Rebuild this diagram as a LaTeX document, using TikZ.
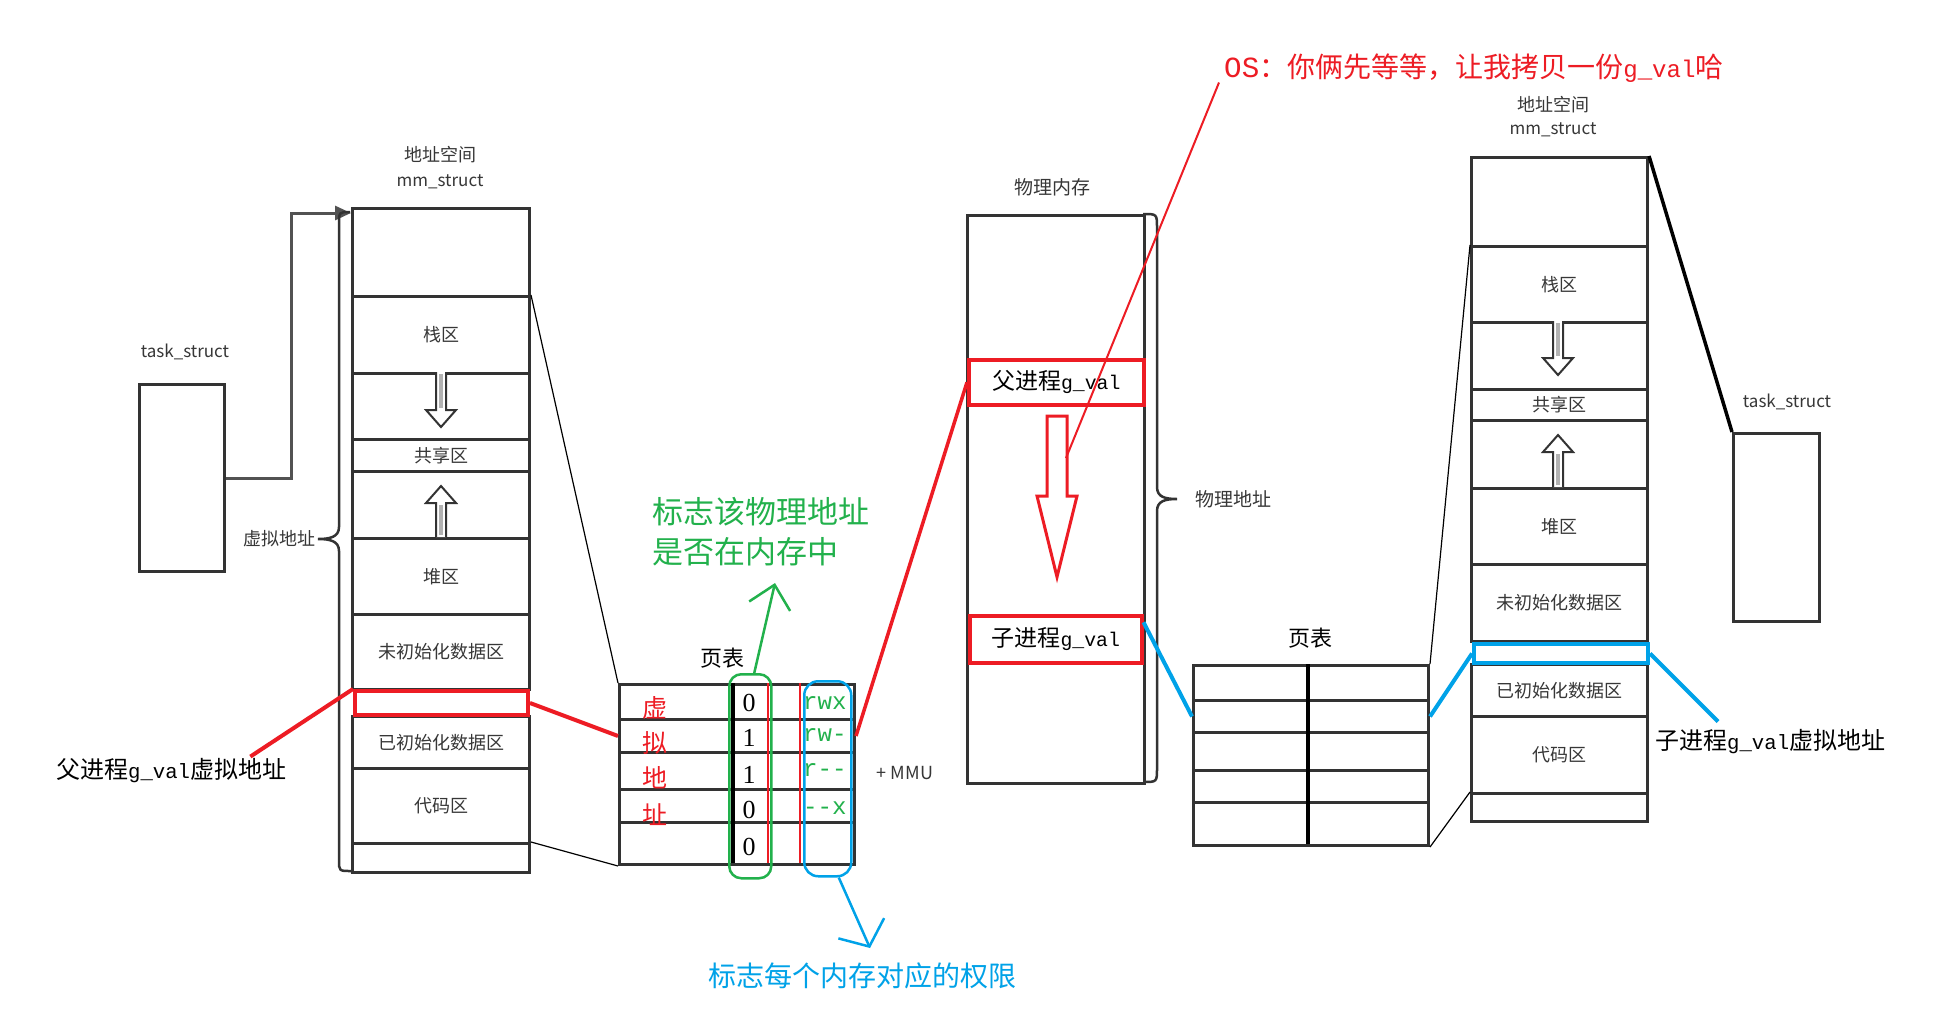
\documentclass[tikz,border=0pt]{standalone}
\usepackage{fontspec}
\setmainfont{Liberation Serif}
\newfontfamily\cjk{Noto Sans CJK SC}
\newfontfamily\mono[Scale=0.86]{Liberation Mono}
\usetikzlibrary{arrows.meta,calc}
\definecolor{dk}{RGB}{51,51,51}
\definecolor{tg}{RGB}{55,55,55}
\definecolor{pred}{RGB}{237,28,36}
\definecolor{pgreen}{RGB}{34,177,76}
\definecolor{pblue}{RGB}{0,162,232}
\newcommand{\myfs}[1]{\fontsize{#1pt}{#1pt}\selectfont}
\newcommand{\gv}{{\mono g\_val}}
\begin{document}
\begin{tikzpicture}[x=1pt,y=-1pt,
  seg/.style={draw=dk,line width=3pt,minimum width=177pt,inner sep=0pt,anchor=north west,font=\cjk\myfs{18},text=tg},
  segr/.style={seg,minimum width=176pt},
  ptrow/.style={draw=dk,line width=3pt,minimum width=235pt,inner sep=0pt,anchor=north west},
  boxn/.style={draw=dk,line width=3pt,inner sep=0pt,anchor=north west},
  lbl/.style={font=\cjk\myfs{18},text=tg,inner sep=0pt},
  blk/.style={font=\cjk\myfs{24},text=black,inner sep=0pt},
  dig/.style={font=\myfs{26},text=black,inner sep=0pt},
  rwxs/.style={font=\mono\myfs{28},text=pgreen,inner sep=0pt,anchor=west},
  redc/.style={font=\cjk\myfs{25},text=pred,inner sep=0pt},
  thinln/.style={draw=black,line width=1.2pt},
  hollowar/.style={draw=dk,line width=2pt,fill=white,line join=miter},
  bracel/.style={draw=dk,line width=2.5pt},
]
\useasboundingbox[fill=white] (0,0) rectangle (1940,1026);

% ---------- left address space ----------
\node[lbl] (LAt1) at (440,155) {地址空间};
\node[lbl,font=\cjk\myfs{17}] (LAt2) at (440,182) {mm\_struct};
\node[seg,minimum height=88pt] (LA0) at (351,207) {};
\node[seg,minimum height=77pt] (LA1) at (351,295) {栈区};
\node[seg,minimum height=66pt] (LA2) at (351,372) {};
\node[seg,minimum height=32pt] (LA3) at (351,438) {共享区};
\node[seg,minimum height=67pt] (LA4) at (351,470) {};
\node[seg,minimum height=76pt] (LA5) at (351,537) {堆区};
\node[seg,minimum height=75pt] (LA6) at (351,613) {未初始化数据区};
\node[seg,minimum height=52pt] (LA7) at (351,715) {已初始化数据区};
\node[seg,minimum height=75pt] (LA8) at (351,767) {代码区};
\node[seg,minimum height=29pt] (LA9) at (351,842) {};
\node[draw=pred,line width=4pt,minimum width=173pt,minimum height=24pt,inner sep=0pt,anchor=north west] (LAg) at (353,689) {};
\draw[hollowar] (436,372) -- (436,410) -- (426,410) -- (441,427) -- (456,410) -- (446,410) -- (446,372);
\draw[gray!60,line width=4pt] (441,374) -- (441,408);
\draw[hollowar] (436,537) -- (436,503) -- (426,503) -- (441,486) -- (456,503) -- (446,503) -- (446,537);
\draw[gray!60,line width=4pt] (441,505) -- (441,535);

% left task_struct
\node[lbl,font=\cjk\myfs{17}] (LTl) at (185,352) {task\_struct};
\node[boxn,minimum width=85pt,minimum height=187pt] (LT) at (138,383) {};
\draw[dk!85,line width=3pt,-{Triangle[length=16pt,width=14pt]}] (LT.east) -- ++(65,0) |- ($(LA0.north west)+(0,6)$);

% left brace
\draw[bracel] (350,212) .. controls (339,212) .. (339,224) -- (339,527) .. controls (339,537) and (330,539) .. (318,539)
  .. controls (330,539) and (339,541) .. (339,551) -- (339,860) .. controls (339,871) .. (351,871);
\node[lbl,anchor=east] (VL) at (316,539) {虚拟地址};

% left red label
\node[blk,anchor=west] (PL) at (56,771) {父进程\gv 虚拟地址};
\draw[pred,line width=4pt] ($(PL.north east)+(-36,-2)$) -- (LAg.north west);

% ---------- page table 1 ----------
\node[blk,font=\cjk\myfs{22}] (PTt) at (722,658) {页表};
\node[ptrow,minimum height=35pt] (P1) at (618,683) {};
\node[ptrow,minimum height=33pt] (P2) at (618,718) {};
\node[ptrow,minimum height=37pt] (P3) at (618,751) {};
\node[ptrow,minimum height=33pt] (P4) at (618,788) {};
\node[ptrow,minimum height=42pt] (P5) at (618,821) {};
\draw[black,line width=4pt] (733,683) -- (733,863);
\draw[pred,line width=2.5pt] (768,683) -- (768,863);
\draw[pred,line width=2.5pt] (800,683) -- (800,863);
\node[dig] (d1) at (749,703) {0};
\node[dig] (d2) at (749,738) {1};
\node[dig] (d3) at (749,775) {1};
\node[dig] (d4) at (749,810) {0};
\node[dig] (d5) at (749,847) {0};
\node[rwxs] (r1) at (803,703) {rwx};
\node[rwxs] (r2) at (803,735) {rw-};
\node[rwxs] (r3) at (803,770) {r--};
\node[rwxs] (r4) at (803,808) {--x};
\node[redc] (v1) at (655,708) {虚};
\node[redc] (v2) at (655,743) {拟};
\node[redc] (v3) at (655,778) {地};
\node[redc] (v4) at (655,815) {址};
\node[draw=pgreen,line width=2.5pt,rounded corners=12pt,minimum width=42pt,minimum height=204pt,inner sep=0pt,anchor=north west] (GR) at (728,673) {};
\node[draw=pblue,line width=2.5pt,rounded corners=14pt,minimum width=47pt,minimum height=195pt,inner sep=0pt,anchor=north west] (BR) at (803,680) {};
\node[lbl,font=\cjk\myfs{18}] (MMU) at (905,773) {+ MMU};

% green annotation
\node[anchor=west,font=\cjk\fontsize{31pt}{40pt}\selectfont,text=pgreen,align=left,inner sep=0pt] (GT) at (652,532) {标志该物理地址\\是否在内存中};
\coordinate (gtip) at (775,583);
\draw[pgreen,line width=2.5pt,-{Straight Barb[length=22pt,width=42pt]}] ($(GR.north)+(4,0)$) -- (gtip);

% blue annotation
\node[font=\cjk\myfs{28},text=pblue,inner sep=0pt] (BT) at (862,976) {标志每个内存对应的权限};
\coordinate (btip) at (870,948);
\draw[pblue,line width=2.5pt,-{Straight Barb[length=20pt,width=50pt]}] ($(BR.south)+(11,0)$) -- (btip);

% connectors left AS -> page table
\draw[thinln] (LA1.north east) -- (P1.north west);
\draw[thinln] (LA9.north east) -- (P5.south west);
\draw[pred,line width=4pt] (LAg.east) -- (P2.west);

% ---------- physical memory ----------
\node[lbl,font=\cjk\myfs{19}] (PMt) at (1052,187) {物理内存};
\node[boxn,minimum width=177pt,minimum height=568pt] (PM) at (966,214) {};
\node[draw=pred,line width=3.5pt,minimum width=175pt,minimum height=45pt,inner sep=0pt,anchor=north west,font=\cjk\myfs{23},text=black] (PF) at (967,358) {父进程\gv};
\node[draw=pred,line width=3.5pt,minimum width=172pt,minimum height=47pt,inner sep=0pt,anchor=north west,font=\cjk\myfs{23},text=black] (PC) at (968,614) {子进程\gv};
\draw[pred,line width=3pt,fill=white,line join=miter] (1047,416) -- (1067,416) -- (1067,496) -- (1077,496) -- (1057,577) -- (1037,496) -- (1047,496) -- cycle;
\draw[bracel] (1143,214) .. controls (1157,214) .. (1157,228) -- (1157,487) .. controls (1157,497) and (1165,499) .. (1177,499)
  .. controls (1165,499) and (1157,501) .. (1157,511) -- (1157,768) .. controls (1157,782) .. (1143,782);
\node[lbl,font=\cjk\myfs{19},anchor=west] (PAl) at (1195,499) {物理地址};
\draw[pred,line width=3.5pt] (P2.east) -- (PF.west);

% OS remark
\node[anchor=west,font=\cjk\myfs{28},text=pred,inner sep=0pt] (OS) at (1224,68) {{\mono\myfs{34}OS}：你俩先等等，让我拷贝一份\gv 哈};
\coordinate (osend) at (1066,458);
\draw[pred,line width=2pt] ($(OS.south west)+(-5,0)$) -- (osend);

% ---------- page table 2 ----------
\node[blk,font=\cjk\myfs{22}] (PT2t) at (1310,638) {页表};
\node[ptrow,minimum height=35pt] (Q1) at (1192,664) {};
\node[ptrow,minimum height=32pt] (Q2) at (1192,699) {};
\node[ptrow,minimum height=38pt] (Q3) at (1192,731) {};
\node[ptrow,minimum height=32pt] (Q4) at (1192,769) {};
\node[ptrow,minimum height=43pt] (Q5) at (1192,801) {};
\draw[black,line width=4pt] (1308,664) -- (1308,844);

% ---------- right address space ----------
\node[lbl] (RAt1) at (1553,105) {地址空间};
\node[lbl,font=\cjk\myfs{17}] (RAt2) at (1553,130) {mm\_struct};
\node[segr,minimum height=89pt] (RA0) at (1470,156) {};
\node[segr,minimum height=76pt] (RA1) at (1470,245) {栈区};
\node[segr,minimum height=67pt] (RA2) at (1470,321) {};
\node[segr,minimum height=31pt] (RA3) at (1470,388) {共享区};
\node[segr,minimum height=68pt] (RA4) at (1470,419) {};
\node[segr,minimum height=76pt] (RA5) at (1470,487) {堆区};
\node[segr,minimum height=77pt] (RA6) at (1470,563) {未初始化数据区};
\node[segr,minimum height=52pt] (RA7) at (1470,663) {已初始化数据区};
\node[segr,minimum height=77pt] (RA8) at (1470,715) {代码区};
\node[segr,minimum height=28pt] (RA9) at (1470,792) {};
\node[draw=pblue,line width=4pt,minimum width=174pt,minimum height=19pt,inner sep=0pt,anchor=north west] (RAg) at (1472,642) {};
\draw[hollowar] (1553,321) -- (1553,358) -- (1543,358) -- (1558,375) -- (1573,358) -- (1563,358) -- (1563,321);
\draw[gray!60,line width=4pt] (1558,323) -- (1558,356);
\draw[hollowar] (1553,487) -- (1553,452) -- (1543,452) -- (1558,435) -- (1573,452) -- (1563,452) -- (1563,487);
\draw[gray!60,line width=4pt] (1558,454) -- (1558,485);

% right task_struct
\node[lbl,font=\cjk\myfs{17}] (RTl) at (1787,402) {task\_struct};
\node[boxn,minimum width=86pt,minimum height=188pt] (RT) at (1732,432) {};
\draw[black,line width=3.5pt] (RA0.north east) -- (RT.north west);

% right label
\node[blk,anchor=west] (CL) at (1655,742) {子进程\gv 虚拟地址};

% connectors physical memory / page table 2 / right AS
\draw[pblue,line width=4pt] ($(PC.east)+(0,-17)$) -- (Q2.west);
\draw[pblue,line width=4pt] (Q2.east) -- (RAg.west);
\draw[pblue,line width=4pt] (RAg.east) -- ($(CL.north west)+(63,-8)$);
\draw[thinln] (RA1.north west) -- (Q1.north east);
\draw[thinln] (RA9.north west) -- (Q5.south east);
\end{tikzpicture}
\end{document}
